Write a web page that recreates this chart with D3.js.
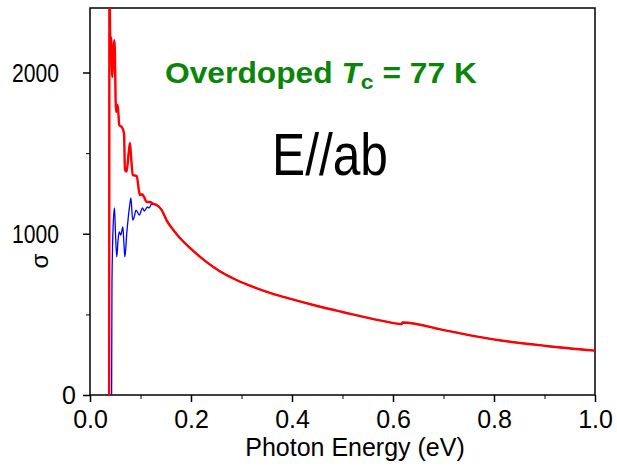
<!DOCTYPE html>
<html>
<head>
<meta charset="utf-8">
<script src="https://cdn.jsdelivr.net/npm/d3@7"></script>
<style>
  body { margin: 0; background: #fff; }
  svg { display: block; }
  text { font-family: Arial, "Liberation Sans", sans-serif; }
</style>
</head>
<body>
<svg id="chart" width="617" height="467"></svg>
<script>
// Optical conductivity, E//ab, overdoped sample (Tc = 77 K)
// [photon energy (eV), sigma]
const redLow = [
  [0.0380, 0], [0.0385, 2600], [0.0400, 2214], [0.0416, 2220], [0.0442, 1972],
  [0.0465, 2150], [0.0485, 2200], [0.0515, 1755], [0.0549, 1798], [0.0580, 1674],
  [0.0628, 1662], [0.0673, 1625], [0.0693, 1395], [0.0725, 1385], [0.0765, 1500],
  [0.0792, 1563], [0.0815, 1470], [0.0846, 1364], [0.0925, 1358], [0.0965, 1275],
  [0.0990, 1240], [0.1030, 1245], [0.1070, 1228], [0.1120, 1197], [0.1190, 1197],
  [0.1250, 1186], [0.1320, 1178]
];
const blueLow = [
  [0.0428, 0], [0.0435, 700], [0.0460, 1060], [0.0485, 1160], [0.0505, 1000],
  [0.0530, 856], [0.0555, 960], [0.0580, 1011], [0.0610, 992], [0.0650, 1042],
  [0.0670, 950], [0.0690, 856], [0.0730, 1010], [0.0780, 1160], [0.0810, 1222],
  [0.0845, 1085], [0.0880, 1110], [0.0910, 1147], [0.0976, 1116], [0.1040, 1160],
  [0.1075, 1141], [0.1140, 1166], [0.1170, 1160], [0.1220, 1184], [0.1320, 1178]
];
// above ~0.13 eV both spectra coincide
const sharedTail = [
  [0.142, 1147], [0.152, 1081], [0.165, 1023], [0.178, 974], [0.198, 912],
  [0.214, 867], [0.231, 824], [0.257, 768], [0.290, 713], [0.323, 670],
  [0.356, 633], [0.390, 602], [0.450, 552], [0.500, 515], [0.574, 463],
  [0.617, 440], [0.619, 450], [0.706, 399], [0.799, 345], [0.904, 304],
  [1.000, 275]
];
const xTicks = [0, 0.2, 0.4, 0.6, 0.8, 1.0];
const xMinorTicks = [0.1, 0.3, 0.5, 0.7, 0.9];
const yTicks = [0, 1000, 2000];
const yMinorTicks = [500, 1500];

const svg = d3.select("#chart");
const plot = { left: 90, right: 595, top: 8, bottom: 395 };

const x = d3.scaleLinear().domain([0, 1]).range([plot.left, plot.right]);
const y = d3.scaleLinear().domain([0, 2400]).range([plot.bottom, plot.top]);

svg.append("clipPath").attr("id", "plot-clip")
  .append("rect")
  .attr("x", plot.left).attr("y", plot.top)
  .attr("width", plot.right - plot.left).attr("height", plot.bottom - plot.top);

// frame
svg.append("rect")
  .attr("x", plot.left).attr("y", plot.top)
  .attr("width", plot.right - plot.left).attr("height", plot.bottom - plot.top)
  .attr("fill", "none").attr("stroke", "#000").attr("stroke-width", 1.5);

// x axis
const xAxis = svg.append("g").attr("transform", `translate(0,${plot.bottom})`)
  .call(d3.axisBottom(x).tickValues(xTicks).tickSize(7).tickFormat(d3.format(".1f")));
svg.append("g").attr("transform", `translate(0,${plot.bottom})`)
  .call(d3.axisBottom(x).tickValues(xMinorTicks).tickSize(4).tickFormat(""))
  .call(g => g.select(".domain").remove());
xAxis.select(".domain").remove();
xAxis.selectAll(".tick line").attr("stroke-width", 1.5);
xAxis.selectAll(".tick text")
  .attr("y", 33).attr("dy", 0)
  .attr("font-size", 25).attr("fill", "#000");

// y axis
const yAxis = svg.append("g").attr("transform", `translate(${plot.left},0)`)
  .call(d3.axisLeft(y).tickValues(yTicks).tickSize(7).tickFormat(d3.format("d")));
svg.append("g").attr("transform", `translate(${plot.left},0)`)
  .call(d3.axisLeft(y).tickValues(yMinorTicks).tickSize(4).tickFormat(""))
  .call(g => g.select(".domain").remove());
yAxis.select(".domain").remove();
yAxis.selectAll(".tick line").attr("stroke-width", 1.5);
yAxis.selectAll(".tick text")
  .attr("font-size", 25).attr("fill", "#000")
  .attr("dy", "0.34em")
  .attr("x", d => d === 0 ? -14 : -31)
  .each(function (d) {
    if (d !== 0) d3.select(this).attr("textLength", 47).attr("lengthAdjust", "spacingAndGlyphs");
  });
svg.selectAll(".tick line").attr("stroke", "#000");
svg.selectAll("g").attr("font-family", null);

// axis titles
svg.append("text")
  .attr("x", 355).attr("y", 456)
  .attr("text-anchor", "middle").attr("font-size", 25)
  .text("Photon Energy (eV)");

svg.append("text")
  .attr("transform", "translate(48,261) rotate(-90)")
  .attr("text-anchor", "middle").attr("font-size", 24)
  .text("σ");

// spectra
const line = d3.line().x(d => x(d[0])).y(d => y(d[1])).curve(d3.curveMonotoneX);
const curves = svg.append("g").attr("clip-path", "url(#plot-clip)");
curves.append("path")
  .datum(blueLow.concat(sharedTail))
  .attr("d", line).attr("fill", "none")
  .attr("stroke", "#0000ff").attr("stroke-width", 1.3)
  .attr("stroke-linejoin", "round");
curves.append("path")
  .datum(redLow.concat(sharedTail))
  .attr("d", line).attr("fill", "none")
  .attr("stroke", "#ff0000").attr("stroke-width", 2.4)
  .attr("stroke-linejoin", "round");

// annotations
const title = svg.append("g").attr("transform", "translate(165,83)");
const titleText = title.append("text")
  .attr("font-size", 29).attr("font-weight", "bold").attr("fill", "#0a850a");
titleText.append("tspan").text("Overdoped ");
titleText.append("tspan").attr("font-style", "italic").text("T");
titleText.append("tspan").attr("font-size", 21).attr("dy", 6).text("c");
titleText.append("tspan").attr("dy", -6).text(" = 77 K");
const tw = titleText.node().getComputedTextLength();
title.attr("transform", `translate(165,83) scale(${312 / tw},1)`);

svg.append("text")
  .attr("x", 272).attr("y", 175)
  .attr("font-size", 60)
  .attr("textLength", 116).attr("lengthAdjust", "spacingAndGlyphs")
  .text("E//ab");
</script>
</body>
</html>
